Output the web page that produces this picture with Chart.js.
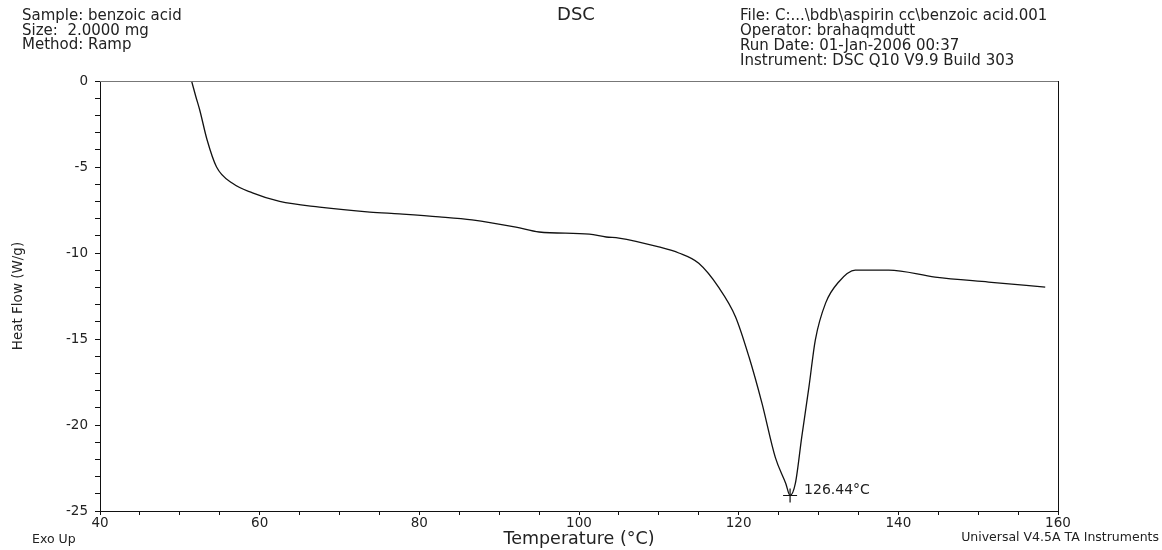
<!DOCTYPE html>
<html>
<head>
<meta charset="utf-8">
<script src="https://cdn.jsdelivr.net/npm/chart.js@4.4.1/dist/chart.umd.min.js"></script>
<style>
  html, body { margin: 0; padding: 0; background: #fff; }
  #wrap { width: 1162px; height: 550px; }
</style>
</head>
<body>
<div id="wrap"><canvas id="chart" width="1162" height="550"></canvas></div>
<script>
// DSC trace: temperature (°C) vs heat flow (W/g)
const temperature = [51.5, 52.0, 52.5, 53.4, 54.6, 56.6, 59.1, 62.5, 67.5, 73.8,
  77.5, 82.5, 86.6, 92.1, 95.0, 101.3, 103.4, 105.0, 110.0, 112.5,
  115.0, 117.5, 119.6, 121.3, 122.9, 124.6, 125.9, 126.44, 127.1, 127.9,
  128.8, 129.6, 130.9, 132.5, 134.6, 138.8, 144.6, 151.3, 158.4];
const heatFlow = [-0.05, -0.9, -1.7, -3.4, -5.0, -5.95, -6.5, -7.0, -7.33, -7.62,
  -7.73, -7.9, -8.08, -8.5, -8.78, -8.9, -9.07, -9.13, -9.65, -10.0,
  -10.6, -12.0, -13.7, -16.05, -18.7, -21.9, -23.4, -24.1, -23.4, -20.7,
  -17.8, -15.06, -12.9, -11.7, -11.0, -11.0, -11.4, -11.69, -11.98];

const peakTemp = 126.44;
const peakFlow = -24.1;

const xMajorTicks = [40, 60, 80, 100, 120, 140, 160];
const yMajorTicks = [0, -5, -10, -15, -20, -25];

const sampleInfo = ['Sample: benzoic acid', 'Size:  2.0000 mg', 'Method: Ramp'];
const runInfo = ['File: C:...\\bdb\\aspirin cc\\benzoic acid.001', 'Operator: brahaqmdutt',
  'Run Date: 01-Jan-2006 00:37', 'Instrument: DSC Q10 V9.9 Build 303'];

const FONT = "'DejaVu Sans', 'Liberation Sans', Arial, sans-serif";

const frameAndText = {
  id: 'frameAndText',
  beforeDatasetsDraw(chart) {
    const {ctx, chartArea: a} = chart;
    ctx.save();
    ctx.lineWidth = 1;
    ctx.strokeStyle = '#777';
    ctx.beginPath();
    ctx.moveTo(a.left, a.top + 0.5);
    ctx.lineTo(a.right, a.top + 0.5);
    ctx.stroke();
    ctx.strokeStyle = '#111';
    ctx.beginPath();
    ctx.moveTo(a.right + 0.5, a.top);
    ctx.lineTo(a.right + 0.5, a.bottom);
    ctx.stroke();
    ctx.restore();
  },
  afterDraw(chart) {
    const {ctx, scales} = chart;
    ctx.save();
    ctx.fillStyle = '#222';
    ctx.textBaseline = 'middle';
    ctx.font = '15px ' + FONT;
    ctx.textAlign = 'left';
    sampleInfo.forEach((t, i) => ctx.fillText(t, 22, 16.5 + i * 14.3));
    runInfo.forEach((t, i) => ctx.fillText(t, 740, 16.5 + i * 14.8));
    ctx.font = '18px ' + FONT;
    ctx.textAlign = 'center';
    ctx.fillText('DSC', 576, 15);
    ctx.font = '12.5px ' + FONT;
    ctx.textAlign = 'left';
    ctx.fillText('Exo Up', 32, 540);
    ctx.textAlign = 'right';
    ctx.font = '12.5px ' + FONT;
    ctx.fillText('Universal V4.5A TA Instruments', 1159, 538);
    // peak annotation
    const px = scales.x.getPixelForValue(peakTemp);
    const py = scales.y.getPixelForValue(peakFlow);
    ctx.textAlign = 'left';
    ctx.font = '14px ' + FONT;
    ctx.fillText(peakTemp.toFixed(2) + '°C', px + 14, py - 5);
    ctx.restore();
  }
};

new Chart(document.getElementById('chart'), {
  type: 'line',
  data: {
    datasets: [
      {
        data: temperature.map((t, i) => ({x: t, y: heatFlow[i]})),
        borderColor: '#111',
        borderWidth: 1.3,
        pointRadius: 0,
        cubicInterpolationMode: 'monotone',
        fill: false
      },
      {
        data: [{x: peakTemp, y: peakFlow}],
        showLine: false,
        pointStyle: 'cross',
        pointRadius: 7,
        pointBorderColor: '#111',
        pointBorderWidth: 1.2
      }
    ]
  },
  options: {
    responsive: false,
    animation: false,
    layout: {padding: {top: 81, right: 104, left: 0, bottom: 0}},
    plugins: {legend: {display: false}, tooltip: {enabled: false}},
    scales: {
      x: {
        type: 'linear',
        min: 40, max: 160,
        afterFit: s => { s.height = 39; },
        border: {display: true, color: '#111', width: 1},
        grid: {drawOnChartArea: false, drawTicks: true, tickLength: 4, color: '#111'},
        ticks: {
          stepSize: 5, autoSkip: false, maxRotation: 0, padding: 0,
          color: '#222', font: {family: FONT, size: 13.5},
          callback: v => xMajorTicks.includes(v) ? String(v) : ''
        },
        title: {display: true, text: 'Temperature (°C)', color: '#222',
          font: {family: FONT, size: 17.5}, padding: {top: 0, bottom: 0}}
      },
      y: {
        min: -25, max: 0,
        afterFit: s => { s.width = 100; },
        border: {display: true, color: '#111', width: 1},
        grid: {drawOnChartArea: false, drawTicks: true, tickLength: 5, color: '#111'},
        ticks: {
          stepSize: 1, autoSkip: false, padding: 7,
          color: '#222', font: {family: FONT, size: 13.5},
          callback: v => yMajorTicks.includes(v) ? String(v) : ''
        },
        title: {display: true, text: 'Heat Flow (W/g)', color: '#222',
          font: {family: FONT, size: 13.5}, padding: {top: 10, bottom: 0}}
      }
    }
  },
  plugins: [frameAndText]
});
</script>
</body>
</html>
